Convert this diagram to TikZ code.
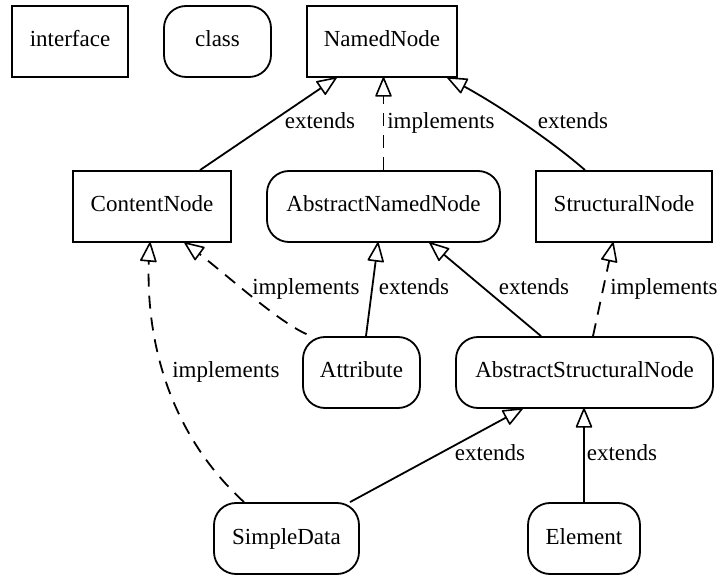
\documentclass[tikz,border=0pt]{standalone}
\usepackage{fontspec}
\setmainfont{Liberation Serif}
\usetikzlibrary{calc}
% open UML generalisation head: tip at #1, pointing away from #2
\newcommand\umlhead[2]{%
  \filldraw[head] (#1) -- ($(#1)!18pt!(#2)!7.5pt!90:(#1)$)
                       -- ($(#1)!18pt!(#2)!7.5pt!-90:(#1)$) -- cycle;}
\begin{document}
\begin{tikzpicture}[x=1pt,y=-1pt,
  every node/.style={font=\fontsize{23}{27}\selectfont},
  box/.style={draw,line width=1.8pt,minimum height=71pt,inner sep=0pt,
              text height=11pt,text depth=0pt},
  iface/.style={box},
  cls/.style={box,rounded corners=22pt},
  ext/.style={line width=1.8pt},
  impl/.style={line width=1.8pt,dash pattern=on 13pt off 9pt},
  head/.style={fill=white,draw=black,line width=1.6pt,line join=round},
  lbl/.style={anchor=base,inner sep=0pt}]
\useasboundingbox (0,0) rectangle (721,577);

% legend
\node[iface,minimum width=116pt] (legI) at (70,41.5) {interface};
\node[cls,minimum width=107pt] (legC) at (217.5,41.5) {class};

% types
\node[iface,minimum width=150pt] (NN)  at (382,41.5)   {NamedNode};
\node[iface,minimum width=158pt] (CN)  at (152,206.5)  {ContentNode};
\node[cls,minimum width=233pt]   (ANN) at (383.5,206.5){AbstractNamedNode};
\node[iface,minimum width=176pt] (SN)  at (624,206.5)  {StructuralNode};
\node[cls,minimum width=117pt]   (AT)  at (361.5,372.5){Attribute};
\node[cls,minimum width=257pt]   (ASN) at (584.5,372.5){AbstractStructuralNode};
\node[cls,minimum width=145pt]   (SD)  at (286.5,538.5){SimpleData};
\node[cls,minimum width=112pt]   (EL)  at (584,538.5)  {Element};

% connector end points
\coordinate (s1)  at ([xshift=48pt]CN.north);
\coordinate (t1)  at ([xshift=-46pt]NN.south);
\coordinate (s2)  at (ANN.north);
\coordinate (t2)  at (ANN.north |- NN.south);
\coordinate (s3)  at ([xshift=-39pt]SN.north);
\coordinate (t3)  at ([xshift=66pt]NN.south);
\coordinate (s4)  at ([xshift=4.5pt]AT.north);
\coordinate (t4)  at ([xshift=-5.5pt]ANN.south);
\coordinate (s5)  at ([xshift=-55pt,yshift=2pt]AT.north);
\coordinate (t5)  at ([xshift=33pt]CN.south);
\coordinate (s6)  at ([xshift=-43.5pt]ASN.north);
\coordinate (t6)  at ([xshift=46.5pt]ANN.south);
\coordinate (s7)  at ([xshift=8.5pt]ASN.north);
\coordinate (t7)  at ([xshift=-11pt]SN.south);
\coordinate (s8)  at ([xshift=-42.5pt]SD.north);
\coordinate (t8)  at ([xshift=-2pt]CN.south);
\coordinate (s9)  at ([xshift=63.5pt]SD.north);
\coordinate (t9)  at ([xshift=-62.5pt]ASN.south);
\coordinate (s10) at (EL.north);
\coordinate (t10) at (EL.north |- ASN.south);

% relations
\draw[ext]  (s1) -- (t1);          \umlhead{t1}{s1}
\draw[impl] (s2) -- (t2);          \umlhead{t2}{s2}
\draw[ext]  (s3) .. controls (560,148) and (500,104) .. (t3);
\umlhead{t3}{500,104}
\draw[ext]  (s4) -- (t4);          \umlhead{t4}{s4}
\draw[impl] (s5) .. controls (275,320) and (222,270) .. (t5);
\umlhead{t5}{222,270}
\draw[ext]  (s6) -- (t6);          \umlhead{t6}{s6}
\draw[impl] (s7) -- (t7);          \umlhead{t7}{s7}
\draw[impl] (s8) .. controls (160,425) and (143,320) .. (t8);
\umlhead{t8}{143,320}
\draw[ext]  (s9) -- (t9);          \umlhead{t9}{s9}
\draw[ext]  (s10) -- (t10);        \umlhead{t10}{s10}

% relation labels
\node[lbl] (l1)  at (320,129) {extends};
\node[lbl] (l2)  at (441,129) {implements};
\node[lbl] (l3)  at (573,129) {extends};
\node[lbl] (l4)  at (306,295) {implements};
\node[lbl] (l5)  at (414,295) {extends};
\node[lbl] (l6)  at (534,295) {extends};
\node[lbl] (l7)  at (664,295) {implements};
\node[lbl] (l8)  at (226,378) {implements};
\node[lbl] (l9)  at (490,461) {extends};
\node[lbl] (l10) at (622,461) {extends};
\end{tikzpicture}
\end{document}
